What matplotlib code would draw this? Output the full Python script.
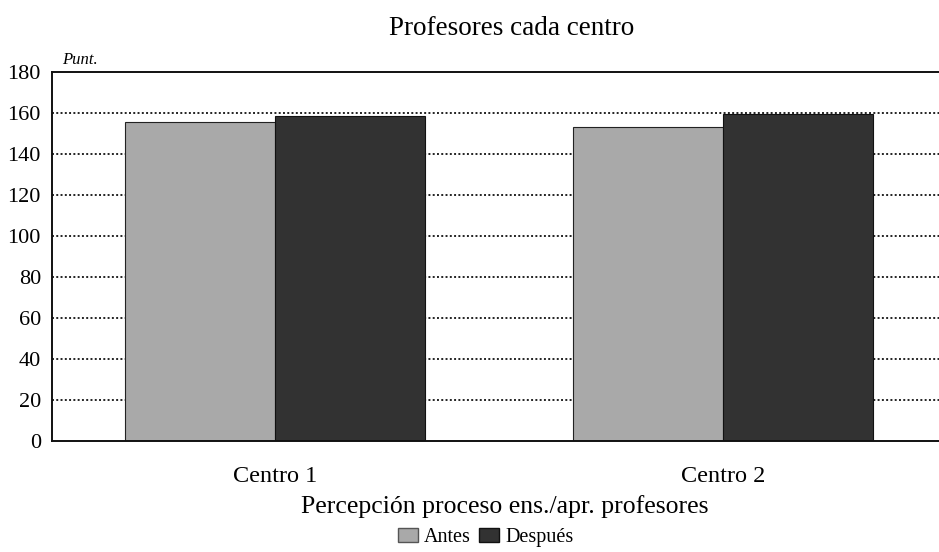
import numpy as np
import matplotlib.pyplot as plt
from matplotlib.patches import Patch
plt.rcParams['font.family'] = 'Liberation Serif'

# Data
centros = ["Centro 1", "Centro 2"]
antes = [155.3, 153.3]
despues = [158.2, 159.5]
y_ticks = [0, 20, 40, 60, 80, 100, 120, 140, 160, 180]

fig = plt.figure(figsize=(9.39, 5.52), dpi=100)
ax = fig.add_axes([0.0554, 0.201, 0.9446, 0.669])

x = np.arange(len(centros))
w = 0.335
ax.bar(x - w / 2, antes, w, color="#a9a9a9", edgecolor="#222222", linewidth=0.8, zorder=2)
ax.bar(x + w / 2, despues, w, color="#323232", edgecolor="#111111", linewidth=0.8, zorder=2)

# Dotted gridlines
for t in y_ticks[1:-1]:
    ax.axhline(t, color="#222222", linestyle=(0, (1, 1.2)), linewidth=1.4, zorder=1)

ax.set_xlim(-0.498, 1.482)
ax.set_ylim(0, 180)
ax.set_yticks(y_ticks)
ax.set_yticklabels([str(t) for t in y_ticks], fontsize=16)
ax.set_xticks(x)
ax.set_xticklabels(centros, fontsize=17.5)
ax.tick_params(length=0, pad=8)
ax.tick_params(axis="x", pad=18)

for s in ["left", "top", "bottom"]:
    ax.spines[s].set_linewidth(1.4)
    ax.spines[s].set_color("#111111")
ax.spines["right"].set_visible(False)

fig.text(0.545, 0.948, "Profesores cada centro", ha="center", va="center", fontsize=19.5)
fig.text(0.066, 0.892, "Punt.", ha="left", va="center", fontsize=12, style="italic")
fig.text(0.538, 0.082, "Percepción proceso ens./apr. profesores", ha="center", va="center", fontsize=18.5)

handles = [Patch(facecolor="#a9a9a9", edgecolor="#555555", label="Antes"),
           Patch(facecolor="#323232", edgecolor="#111111", label="Después")]
fig.legend(handles=handles, loc="center", bbox_to_anchor=(0.517, 0.027), ncol=2,
           frameon=False, fontsize=14.5, handlelength=1.0, handleheight=0.7,
           handletextpad=0.3, columnspacing=0.4, borderpad=0)

fig.savefig("out.png", dpi=100)
